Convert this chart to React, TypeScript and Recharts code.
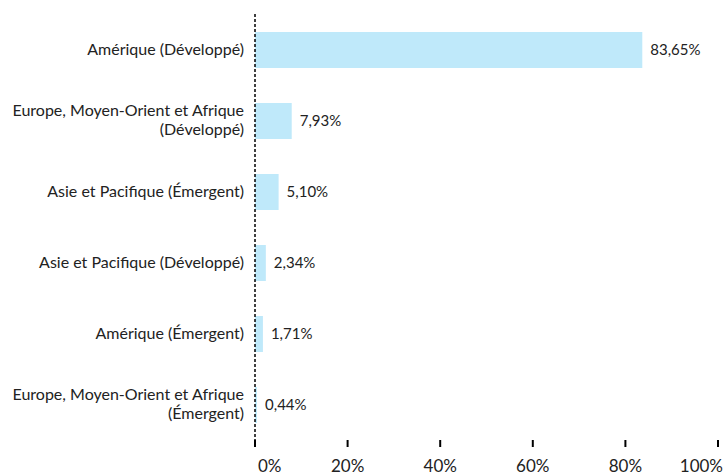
import { BarChart, Bar, XAxis, YAxis, LabelList } from 'recharts';

// Regions (labels with \n break where the reference wraps)
const REGIONS = [
  'Amérique (Développé)',
  'Europe, Moyen-Orient et Afrique\n(Développé)',
  'Asie et Pacifique (Émergent)',
  'Asie et Pacifique (Développé)',
  'Amérique (Émergent)',
  'Europe, Moyen-Orient et Afrique\n(Émergent)',
];

const WEIGHTS = [83.65, 7.93, 5.1, 2.34, 1.71, 0.44];

const X_TICKS = [0, 20, 40, 60, 80, 100];

const FONT = 'Lato, "Open Sans", sans-serif';
const BAR_COLOR = '#bfe9fa';

const data = REGIONS.map((name, i) => ({ name, value: WEIGHTS[i] }));

const formatPct = (v: number) => `${v.toFixed(2).replace('.', ',')}%`;

const CategoryTick = ({ x, y, payload }: { x: number; y: number; payload: { value: string } }) => {
  const lines = String(payload.value).split('\n');
  const lineH = 19;
  const start = -((lines.length - 1) * lineH) / 2;
  return (
    <text x={x} y={y} textAnchor="end" fill="#222" fontSize={16} fontFamily={FONT}>
      {lines.map((l, i) => (
        <tspan key={i} x={x} dy={i === 0 ? start + 5 : lineH}>
          {l}
        </tspan>
      ))}
    </text>
  );
};

const PercentTick = ({ x, y, payload }: { x: number; y: number; payload: { value: number } }) => {
  const v = payload.value;
  // first and last labels pushed inward like the original
  const anchor = v === 0 ? 'start' : v === 100 ? 'end' : 'middle';
  const dx = v === 0 ? 3 : v === 100 ? 5 : 0;
  return (
    <text x={x + dx} y={y + 23} textAnchor={anchor} fill="#222" fontSize={17} fontFamily={FONT}>
      {`${v}%`}
    </text>
  );
};

export default function App() {
  return (
    <div style={{ position: 'absolute', left: 0, top: 0, background: '#fff' }}>
      <BarChart
        width={726}
        height={475}
        data={data}
        layout="vertical"
        margin={{ top: 14, right: 8, bottom: 0, left: 0 }}
        barCategoryGap={0}
      >
        <XAxis
          type="number"
          domain={[0, 100]}
          ticks={X_TICKS}
          axisLine={false}
          tickLine={{ stroke: '#000', strokeWidth: 2 }}
          tickSize={7}
          height={35}
          tick={PercentTick}
          interval={0}
        />
        <YAxis
          type="category"
          dataKey="name"
          width={255}
          axisLine={{ stroke: '#000', strokeDasharray: '3 2', strokeWidth: 1.5 }}
          tickLine={false}
          tick={CategoryTick}
          tickMargin={5}
          interval={0}
        />
        <Bar dataKey="value" fill={BAR_COLOR} barSize={36} isAnimationActive={false}>
          <LabelList
            dataKey="value"
            position="right"
            offset={8}
            formatter={(v: number) => formatPct(v)}
            fill="#222"
            fontSize={15}
            fontFamily={FONT}
          />
        </Bar>
      </BarChart>
    </div>
  );
}
